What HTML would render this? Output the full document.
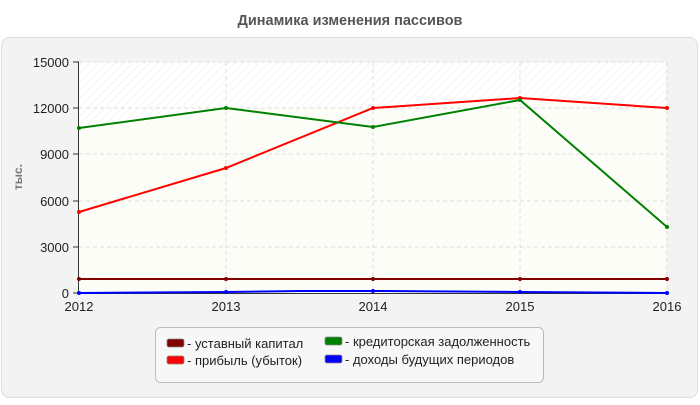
<!DOCTYPE html>
<html><head><meta charset="utf-8"><style>
body{margin:0;width:700px;height:400px;background:#fff;overflow:hidden;font-family:"Liberation Sans",sans-serif}
</style></head><body>
<svg width="700" height="400" xmlns="http://www.w3.org/2000/svg" font-family="Liberation Sans, sans-serif">
<defs>
<pattern id="h" width="6" height="6" patternUnits="userSpaceOnUse" patternTransform="rotate(45)">
<rect width="6" height="6" fill="#fff"/><line x1="0" y1="0" x2="0" y2="6" stroke="#ececec" stroke-width="1"/>
</pattern>
</defs>
<text x="350" y="25" text-anchor="middle" font-size="14.5" font-weight="bold" fill="#555">Динамика изменения пассивов</text>
<rect x="1.5" y="37.5" width="696" height="360" rx="8" fill="#f3f3f3" stroke="#ddd"/>
<rect x="79" y="62" width="588" height="231" fill="url(#h)"/>
<polygon points="79,128 226,108 373,108 520,98 667,108 667,293 79,293" fill="#fbfdf3" opacity="0.6"/>
<g stroke="#ddd" stroke-dasharray="4,3">
<line x1="79" y1="62" x2="667" y2="62"/><line x1="79" y1="108" x2="667" y2="108"/>
<line x1="79" y1="154" x2="667" y2="154"/><line x1="79" y1="201" x2="667" y2="201"/>
<line x1="79" y1="247" x2="667" y2="247"/>
<line x1="226" y1="62" x2="226" y2="293"/><line x1="373" y1="62" x2="373" y2="293"/>
<line x1="520" y1="62" x2="520" y2="293"/><line x1="667" y1="62" x2="667" y2="293"/>
</g>
<line x1="78.5" y1="62" x2="78.5" y2="294" stroke="#333"/>
<line x1="78" y1="293.5" x2="667" y2="293.5" stroke="#333"/>
<g stroke="#333"><line x1="73" y1="62" x2="79" y2="62"/><line x1="73" y1="108" x2="79" y2="108"/><line x1="73" y1="154" x2="79" y2="154"/><line x1="73" y1="201" x2="79" y2="201"/><line x1="73" y1="247" x2="79" y2="247"/><line x1="73" y1="293" x2="79" y2="293"/></g>
<g font-size="13" fill="#222" text-anchor="end">
<text x="69" y="67">15000</text><text x="69" y="113">12000</text><text x="69" y="159">9000</text>
<text x="69" y="206">6000</text><text x="69" y="252">3000</text><text x="69" y="298">0</text>
</g>
<g font-size="13" fill="#222" text-anchor="middle">
<text x="79" y="311">2012</text><text x="226" y="311">2013</text><text x="373" y="311">2014</text>
<text x="520" y="311">2015</text><text x="667" y="311">2016</text>
</g>
<text x="22" y="177" font-size="12" font-weight="bold" fill="#777" transform="rotate(-90 22 177)" text-anchor="middle">тыс.</text>
<g fill="none" stroke-width="2">
<polyline stroke="#800000" points="79,279 226,279 373,279 520,279 667,279"/>
<polyline stroke="#ff0000" points="79,212 226,168 373,108 520,98 667,108"/>
<polyline stroke="#008000" points="79,128 226,108 373,127 520,100 667,227"/>
<polyline stroke="#0000ff" points="79,293 226,292 300,291 373,291 520,292 667,293"/>
</g>
<g>
<g fill="#800000"><circle cx="79" cy="279" r="2"/><circle cx="226" cy="279" r="2"/><circle cx="373" cy="279" r="2"/><circle cx="520" cy="279" r="2"/><circle cx="667" cy="279" r="2"/></g>
<g fill="#f00"><circle cx="79" cy="212" r="2"/><circle cx="226" cy="168" r="2"/><circle cx="373" cy="108" r="2"/><circle cx="520" cy="98" r="2"/><circle cx="667" cy="108" r="2"/></g>
<g fill="#008000"><circle cx="79" cy="128" r="2"/><circle cx="226" cy="108" r="2"/><circle cx="373" cy="127" r="2"/><circle cx="520" cy="100" r="2"/><circle cx="667" cy="227" r="2"/></g>
<g fill="#00f"><circle cx="79" cy="293" r="2"/><circle cx="226" cy="292" r="2"/><circle cx="373" cy="291" r="2"/><circle cx="520" cy="292" r="2"/><circle cx="667" cy="293" r="2"/></g>
</g>
<rect x="155.5" y="327.5" width="388" height="55" rx="5" fill="#f7f7f7" stroke="#bbb"/>
<g stroke="#888" stroke-width="0.8">
<rect x="167" y="339" width="17" height="8" rx="2" fill="#800000"/>
<rect x="167" y="356" width="17" height="8" rx="2" fill="#ff0000"/>
<rect x="325" y="337" width="17" height="8" rx="2" fill="#008000"/>
<rect x="325" y="355" width="17" height="8" rx="2" fill="#0000ff"/>
</g>
<g font-size="13" fill="#222">
<text x="187" y="348">- уставный капитал</text>
<text x="187" y="365">- прибыль (убыток)</text>
<text x="345" y="346">- кредиторская задолженность</text>
<text x="345" y="364">- доходы будущих периодов</text>
</g>
</svg>
</body></html>
